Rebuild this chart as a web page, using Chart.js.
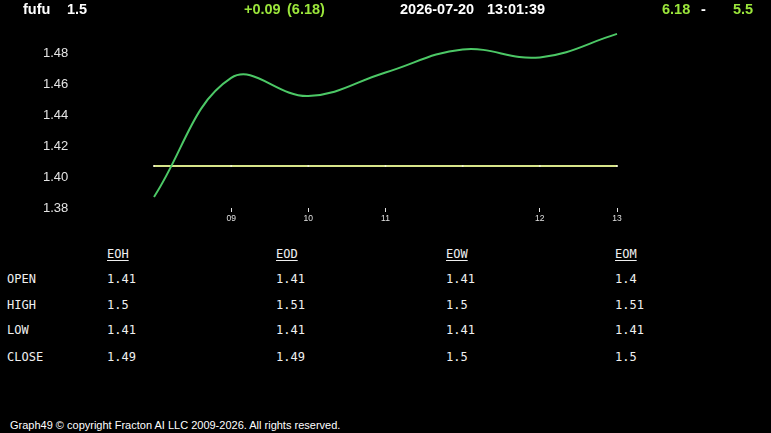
<!DOCTYPE html>
<html>
<head>
<meta charset="utf-8">
<script src="https://cdn.jsdelivr.net/npm/chart.js@4.4.1/dist/chart.umd.min.js"></script>
<style>
    html, body { margin: 0; padding: 0; background: #000; }
    #page { position: relative; width: 771px; height: 433px; overflow: hidden; background: #000; }
    #chartCanvas { position: absolute; left: 0; top: 0; }
    .hdr { position: absolute; top: 1px; font: bold 14.5px Arial, 'Liberation Sans', sans-serif; line-height: 17px; white-space: pre; color: #fff; }
    .hdr.green { color: #9be63b; }
    .tbl { position: absolute; font: 12px 'DejaVu Sans Mono', monospace; line-height: 12px; color: #f0f0f0; white-space: pre; }
    .tbl.head { text-decoration: underline; text-underline-offset: 2px; }
    #footer { position: absolute; left: 10px; top: 419px; font: 11px Arial, 'Liberation Sans', sans-serif; line-height: 13px; color: #fff; white-space: pre; }
</style>
</head>
<body>
<div id="page">
    <canvas id="chartCanvas" width="771" height="235"></canvas>
    <div class="hdr" style="left:23px">fufu</div>
    <div class="hdr" style="left:67px">1.5</div>
    <div class="hdr green" style="left:244px">+0.09</div>
    <div class="hdr green" style="left:287px">(6.18)</div>
    <div class="hdr" style="left:400px">2026-07-20</div>
    <div class="hdr" style="left:487px">13:01:39</div>
    <div class="hdr green" style="left:662px">6.18</div>
    <div class="hdr" style="left:701px">-</div>
    <div class="hdr green" style="left:733px">5.5</div>
    <div id="table"></div>
    <div id="footer">Graph49 © copyright Fracton AI LLC 2009-2026. All rights reserved.</div>
</div>
<script>
// Chart data
const timeLabels = ['', '09', '10', '11', '', '12', '13'];
const priceValues = [1.3866, 1.4631, 1.4515, 1.4666, 1.4814, 1.4763, 1.4914];
const refValues = [1.4065, 1.4065, 1.4065, 1.4065, 1.4065, 1.4065, 1.4065];
const yTickValues = [1.38, 1.40, 1.42, 1.44, 1.46, 1.48];

// Summary table
const rowLabels = ['OPEN', 'HIGH', 'LOW', 'CLOSE'];
const colLabels = ['EOH', 'EOD', 'EOW', 'EOM'];
const eohValues = ['1.41', '1.5', '1.41', '1.49'];
const eodValues = ['1.41', '1.51', '1.41', '1.49'];
const eowValues = ['1.41', '1.5', '1.41', '1.5'];
const eomValues = ['1.4', '1.51', '1.41', '1.5'];

document.addEventListener('DOMContentLoaded', function() {
    initLineChart();
    buildTable();
});

function initLineChart() {
    const ctx = document.getElementById('chartCanvas');

    new Chart(ctx, {
        type: 'line',
        data: {
            labels: timeLabels,
            datasets: [
                {
                    data: priceValues,
                    borderColor: '#4cc866',
                    borderWidth: 2,
                    tension: 0.4,
                    pointRadius: 0,
                    fill: false
                },
                {
                    data: refValues,
                    borderColor: '#d7e48a',
                    borderWidth: 2,
                    tension: 0,
                    pointRadius: 1,
                    pointBorderWidth: 0,
                    pointBackgroundColor: '#f4f6d8',
                    fill: false
                }
            ]
        },
        options: {
            responsive: false,
            animation: false,
            layout: {
                padding: { left: 43, right: 154, top: 28, bottom: 7 }
            },
            plugins: {
                legend: { display: false },
                tooltip: { enabled: false }
            },
            scales: {
                x: {
                    type: 'category',
                    offset: false,
                    border: { display: false },
                    grid: {
                        drawOnChartArea: false,
                        drawTicks: true,
                        tickLength: 4,
                        tickColor: function(c) {
                            return c.tick && c.tick.label ? '#e0e0e0' : 'rgba(0,0,0,0)';
                        }
                    },
                    ticks: {
                        autoSkip: false,
                        maxRotation: 0,
                        padding: 2,
                        color: '#e0e0e0',
                        font: { family: "Arial, 'Liberation Sans', sans-serif", size: 8.5 }
                    },
                    afterFit: function(scale) { scale.height = 20; }
                },
                y: {
                    min: 1.3795,
                    max: 1.4952,
                    border: { display: false },
                    grid: { display: false, drawTicks: false },
                    afterBuildTicks: function(scale) {
                        scale.ticks = yTickValues.map(v => ({ value: v }));
                    },
                    ticks: {
                        padding: 0,
                        crossAlign: 'far',
                        labelOffset: 1.5,
                        color: '#e4e4e4',
                        font: { family: "Arial, 'Liberation Sans', sans-serif", size: 13 },
                        callback: function(value) { return Number(value).toFixed(2); }
                    },
                    afterFit: function(scale) { scale.width = 111; }
                }
            }
        }
    });
}

function buildTable() {
    const table = document.getElementById('table');
    const colX = [107, 276, 446, 615];
    const rowY = [279, 304.5, 330, 356.5];
    const columns = [eohValues, eodValues, eowValues, eomValues];

    function addCell(text, x, centerY, cls) {
        const el = document.createElement('div');
        el.className = 'tbl' + (cls ? ' ' + cls : '');
        el.style.left = x + 'px';
        el.style.top = (centerY - 5.8) + 'px';
        el.textContent = text;
        table.appendChild(el);
    }

    rowLabels.forEach((label, r) => addCell(label, 7, rowY[r]));
    colLabels.forEach((label, c) => {
        addCell(label, colX[c], 253.3, 'head');
        columns[c].forEach((v, r) => addCell(v, colX[c], rowY[r]));
    });
}
</script>
</body>
</html>
